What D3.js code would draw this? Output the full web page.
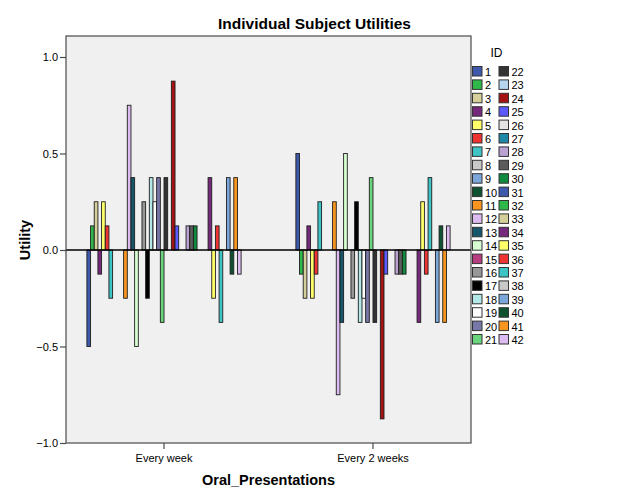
<!DOCTYPE html>
<html>
<head>
<meta charset="utf-8">
<script src="https://cdn.jsdelivr.net/npm/d3@7"></script>
<style>
  html, body { margin: 0; padding: 0; background: #ffffff; }
  svg { display: block; }
  text { font-family: "Liberation Sans", Arial, sans-serif; fill: #000; }
</style>
</head>
<body>
<svg id="chart" width="629" height="504"></svg>
<script>
// ---- data ----
const categories = ["Every week", "Every 2 weeks"];
const ids = d3.range(1, 43).map(String);
const everyWeek = [-0.5, 0.125, 0.25, -0.125, 0.25, 0.125, -0.25, 0, 0, 0,
  -0.25, 0.75, 0.375, -0.5, 0, 0.25, -0.25, 0.375, 0.25, 0.375,
  -0.375, 0.375, 0, 0.875, 0.125, 0, 0, 0.125, 0.125, 0.125,
  0, 0, 0, 0.375, -0.25, 0.125, -0.375, 0, 0.375, -0.125, 0.375, -0.125];
const every2Weeks = [0.5, -0.125, -0.25, 0.125, -0.25, -0.125, 0.25, 0, 0, 0,
  0.25, -0.75, -0.375, 0.5, 0, -0.25, 0.25, -0.375, -0.25, -0.375,
  0.375, -0.375, 0, -0.875, -0.125, 0, 0, -0.125, -0.125, -0.125,
  0, 0, 0, -0.375, 0.25, -0.125, 0.375, 0, -0.375, 0.125, -0.375, 0.125];
const yTicks = [-1.0, -0.5, 0.0, 0.5, 1.0];
const palette = ["#3e58ac", "#2fb84a", "#d5d09a", "#76297c", "#ffff6a", "#ee3333",
  "#3fc4c6", "#c8c8c8", "#7aa6da", "#0e5231", "#f7951f", "#dcbcf0",
  "#15566a", "#d8ffd2", "#b63d80", "#979797", "#000000", "#b3e8e8",
  "#ffffff", "#7878a8", "#6ad47c", "#333333", "#b6d5ef", "#a31313",
  "#5a5aff", "#e4e4e4", "#1e88a6", "#baa2d2", "#5c5c5c", "#118a40"];

const series = [everyWeek, every2Weeks];

// ---- layout ----
const W = 629, H = 504;
const plot = { left: 66, right: 471, top: 36, bottom: 443 };
const svg = d3.select("#chart");

const x0 = d3.scaleBand().domain(categories)
  .range([plot.left, plot.right]).paddingInner(0.262).paddingOuter(0.1);
const x1 = d3.scaleBand().domain(ids).range([0, x0.bandwidth()]).padding(0);
const y = d3.scaleLinear().domain([-1, 1]).range([443, 57]);
const color = d3.scaleOrdinal().domain(ids).range(ids.map((d, i) => palette[i % palette.length]));

// plot background
svg.append("rect")
  .attr("x", plot.left).attr("y", plot.top)
  .attr("width", plot.right - plot.left).attr("height", plot.bottom - plot.top)
  .attr("fill", "#f0f0f0");

// bars
categories.forEach((cat, ci) => {
  const g = svg.append("g").attr("transform", `translate(${x0(cat)},0)`);
  g.selectAll("rect")
    .data(ids.map((id, i) => ({ id, v: series[ci][i] })).filter(d => d.v !== 0))
    .join("rect")
    .attr("x", d => x1(d.id))
    .attr("width", x1.bandwidth())
    .attr("y", d => Math.min(y(d.v), y(0)))
    .attr("height", d => Math.abs(y(d.v) - y(0)))
    .attr("fill", d => color(d.id))
    .attr("stroke", "#1e1e1e")
    .attr("stroke-width", 0.9);
});

// zero reference line
svg.append("line")
  .attr("x1", plot.left).attr("x2", plot.right)
  .attr("y1", y(0)).attr("y2", y(0))
  .attr("stroke", "#000").attr("stroke-width", 1.5);

// plot frame
svg.append("rect")
  .attr("x", plot.left).attr("y", plot.top)
  .attr("width", plot.right - plot.left).attr("height", plot.bottom - plot.top)
  .attr("fill", "none").attr("stroke", "#4a4a4a").attr("stroke-width", 1.2);

// y axis
const yAxis = d3.axisLeft(y).tickValues(yTicks).tickFormat(d3.format(".1f")).tickSize(6).tickPadding(2);
const gy = svg.append("g").attr("transform", `translate(${plot.left},0)`).call(yAxis);
gy.select(".domain").remove();
gy.selectAll(".tick line").attr("stroke", "#4a4a4a").attr("stroke-width", 1.2);
gy.selectAll(".tick text").style("font-family", "'Liberation Sans', Arial, sans-serif").style("font-size", "11px").attr("fill", "#000");

// x axis
const xAxis = d3.axisBottom(x0).tickSize(6).tickPadding(5);
const gx = svg.append("g").attr("transform", `translate(0,${plot.bottom})`).call(xAxis);
gx.select(".domain").remove();
gx.selectAll(".tick line").attr("stroke", "#4a4a4a").attr("stroke-width", 1.2);
gx.selectAll(".tick text").style("font-family", "'Liberation Sans', Arial, sans-serif").style("font-size", "11px").attr("fill", "#000");

// titles
svg.append("text").attr("x", W / 2).attr("y", 28.5).attr("text-anchor", "middle")
  .style("font-size", "15.5px").style("font-weight", "bold").text("Individual Subject Utilities");
svg.append("text").attr("x", (plot.left + plot.right) / 2).attr("y", 485).attr("text-anchor", "middle")
  .style("font-size", "14.5px").style("font-weight", "bold").text("Oral_Presentations");
svg.append("text").attr("transform", "translate(30,240) rotate(-90)").attr("text-anchor", "middle")
  .style("font-size", "14.5px").style("font-weight", "bold").text("Utility");

// legend
const lg = svg.append("g");
lg.append("text").attr("x", 490.5).attr("y", 56.5).style("font-size", "12px").text("ID");
const rowH = 13.4;
ids.forEach((id, i) => {
  const col = Math.floor(i / 21), row = i % 21;
  const bx = 472 + col * 26.5, by = 66 + row * rowH;
  lg.append("rect").attr("x", bx + 0.5).attr("y", by + 0.5).attr("width", 9.5).attr("height", 9.5)
    .attr("fill", color(id)).attr("stroke", "#333").attr("stroke-width", 1);
  lg.append("text").attr("x", bx + 13).attr("y", by + 10).style("font-size", "11px").text(id);
});
</script>
</body>
</html>
